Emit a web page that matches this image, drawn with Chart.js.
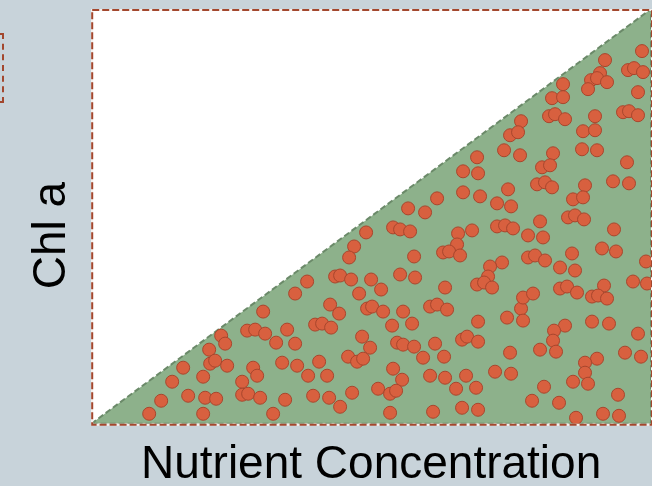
<!DOCTYPE html>
<html>
<head>
<meta charset="utf-8">
<script src="https://cdn.jsdelivr.net/npm/chart.js@4.4.1/dist/chart.umd.min.js"></script>
<style>
    body { margin: 0; background: #c8d3da; overflow: hidden; }
    #wrap { position: relative; width: 652px; height: 486px; }
    #wrap canvas { position: absolute; left: 0; top: 0; }
    #legend-box { position: absolute; left: -150px; top: 33px; width: 150px; height: 66px; border: 2px dashed #a3472e; }
</style>
</head>
<body>
<div id="wrap">
    <div id="legend-box"></div>
    <canvas id="chl-graph" width="652" height="486"></canvas>
</div>
<script>
// axis titles
const xTitle = 'Nutrient Concentration';
const yTitle = 'Chl a';

// axis ranges (arbitrary units, no ticks shown)
const nutrientMax = 560;
const chlMax = 414;

// upper bound of Chl a for a given nutrient level (the green triangle)
const boundX = [0, 560, 560, 0];
const boundY = [0, 414, 0, 0];

// phytoplankton cells
const cellX = [
    172, 130, 134, 118, 156, 164, 174, 196, 185, 119, 124, 136, 92, 162, 166, 191, 112, 81, 151, 97,
    114, 125, 151, 157, 169, 70, 194, 58, 112, 182,
    239, 248, 224, 231, 240, 276, 281, 292, 312, 301, 321, 339, 346, 356, 271, 279, 204, 306, 312, 323,
    344, 371, 376, 257, 266, 272, 228, 206, 332, 353, 217, 236, 302, 311, 339, 354, 375, 287, 299, 305,
    222, 238, 261, 365, 249, 299, 342, 371,
    430, 432, 442, 387, 416, 432, 387, 474, 463, 462, 449, 465, 419, 501, 518, 547, 534, 550, 506, 494,
    494, 482, 497, 404, 420, 385, 453, 441, 468, 527, 387, 512, 528, 485,
    372, 372, 346, 317, 334, 302, 309, 319, 275, 263, 258, 323, 367, 366, 352, 358, 369, 244, 249, 260,
    216, 280, 309, 324, 290, 268, 204, 354,
    386, 413, 429, 462, 491, 506, 536, 451, 459, 387, 446, 454, 461, 417, 494, 482, 492, 389, 406, 420,
    522, 538, 477, 484, 493, 449, 406, 414, 422, 381, 437, 452, 523, 511, 525, 437, 444, 454, 481, 555,
    411, 399, 469, 484, 397, 542, 556, 386, 393, 401, 513, 469, 476, 486, 501, 507, 516,
    551, 514, 537, 543, 552, 509, 500, 506, 516, 497, 472, 547, 461, 472, 458, 464, 474, 504, 532, 538,
    547, 430, 419, 427, 492, 504
];
const cellY = [
    112, 88, 80, 74, 93, 94, 90, 94, 81, 60, 63, 58, 56, 56, 48, 61, 47, 42, 42, 28,
    26, 25, 29, 30, 26, 23, 24, 10, 10, 10,
    119, 110, 99, 100, 96, 115, 117, 112, 112, 98, 100, 117, 119, 114, 87, 76, 80, 81, 79, 77,
    80, 84, 87, 67, 62, 65, 62, 58, 66, 67, 48, 48, 55, 44, 48, 46, 48, 35, 30, 33,
    28, 26, 31, 35, 17, 11, 12, 16,
    115, 126, 130, 102, 106, 103, 82, 98, 93, 83, 74, 72, 71, 102, 100, 90, 71, 67, 65, 61,
    51, 42, 40, 52, 50, 36, 37, 23, 21, 29, 14, 10, 8, 6,
    252, 231, 225, 215, 211, 196, 194, 192, 191, 177, 166, 167, 190, 179, 171, 172, 168, 147, 148, 144,
    142, 144, 149, 146, 134, 130, 130, 136,
    266, 273, 268, 270, 274, 273, 261, 256, 258, 250, 239, 241, 236, 234, 238, 224, 226, 227, 220, 217,
    242, 240, 206, 208, 204, 202, 197, 198, 195, 193, 188, 186, 194, 175, 172, 166, 168, 163, 170, 162,
    161, 157, 156, 153, 147, 142, 140, 139, 141, 136, 138, 135, 137, 131, 127, 128, 125,
    372, 363, 353, 355, 351, 350, 343, 345, 341, 334, 339, 331, 325, 326, 307, 309, 304, 307, 311, 312,
    308, 302, 288, 291, 292, 293
];

const toPoints = (xs, ys) => xs.map((x, i) => ({ x: x, y: ys[i] }));

const titleFont = { family: 'Liberation Sans, Arial, sans-serif', size: 46 };

// white plot area + dashed frame around it
const plotFrame = {
    id: 'plotFrame',
    beforeDatasetsDraw(chart) {
        const { ctx, chartArea: a } = chart;
        ctx.save();
        ctx.fillStyle = '#ffffff';
        ctx.fillRect(a.left, a.top, a.right - a.left, a.bottom - a.top);
        ctx.restore();
    },
    afterDatasetsDraw(chart) {
        const { ctx, chartArea: a } = chart;
        ctx.save();
        ctx.lineWidth = 2;
        ctx.strokeStyle = '#f4f1ee';
        ctx.strokeRect(a.left + 1, a.top + 1, a.right - a.left, a.bottom - a.top);
        ctx.setLineDash([7, 3]);
        ctx.strokeStyle = '#a3472e';
        ctx.strokeRect(a.left + 1, a.top + 1, a.right - a.left, a.bottom - a.top);
        ctx.restore();
    }
};

const chlGraph = document.getElementById('chl-graph').getContext('2d');

const chlChart = new Chart(chlGraph, {
    type: 'scatter',
    data: {
        datasets: [{
            data: toPoints(cellX, cellY),
            backgroundColor: '#d8603f',
            borderColor: '#a8462d',
            borderWidth: 1,
            pointRadius: 6.5,
            order: 0
        }, {
            type: 'line',
            data: toPoints(boundX, boundY),
            showLine: true,
            fill: 'shape',
            backgroundColor: '#8db18b',
            borderColor: '#6b8a69',
            borderWidth: 2,
            borderDash: [6, 3],
            pointRadius: 0,
            tension: 0,
            order: 1
        }]
    },
    options: {
        responsive: false,
        animation: false,
        layout: {
            autoPadding: false,
            padding: { top: 9, right: 1, left: 28, bottom: 0 }
        },
        plugins: {
            legend: { display: false },
            tooltip: { enabled: false }
        },
        scales: {
            x: {
                type: 'linear',
                min: 0,
                max: nutrientMax,
                ticks: { display: false },
                grid: { display: false, drawTicks: false },
                border: { display: false },
                title: {
                    display: true,
                    text: xTitle,
                    color: '#000000',
                    font: titleFont,
                    padding: { top: 14, bottom: -7 }
                }
            },
            y: {
                type: 'linear',
                min: 0,
                max: chlMax,
                ticks: { display: false },
                grid: { display: false, drawTicks: false },
                border: { display: false },
                title: {
                    display: true,
                    text: yTitle + '\u00a0\u00a0\u00a0',
                    color: '#000000',
                    font: titleFont,
                    padding: { top: -3, bottom: 11 }
                }
            }
        }
    },
    plugins: [plotFrame]
});
</script>
</body>
</html>
